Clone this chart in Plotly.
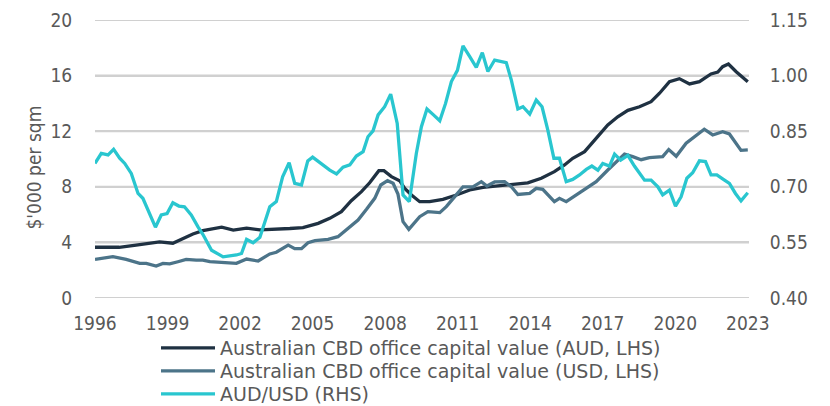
import plotly.graph_objects as go

# AUD/USD exchange rate (RHS)
fx_years = [1996.0, 1996.26, 1996.54, 1996.77, 1997.02, 1997.23, 1997.5, 1997.78, 1997.98, 1998.26,
            1998.5, 1998.74, 1998.98, 1999.22, 1999.47, 1999.7, 1999.98, 2000.26, 2000.46, 2000.82,
            2001.3, 2001.85, 2002.06, 2002.27, 2002.54, 2002.82, 2003.23, 2003.5, 2003.76, 2004.03,
            2004.26, 2004.54, 2004.8, 2005.0, 2005.37, 2005.71, 2005.99, 2006.26, 2006.54, 2006.81,
            2007.09, 2007.29, 2007.5, 2007.71, 2007.98, 2008.23, 2008.5, 2008.74, 2009.0, 2009.29,
            2009.5, 2009.73, 2010.0, 2010.26, 2010.5, 2010.74, 2010.99, 2011.22, 2011.5, 2011.77,
            2012.02, 2012.25, 2012.53, 2013.01, 2013.22, 2013.49, 2013.7, 2013.98, 2014.25, 2014.49,
            2014.73, 2014.98, 2015.21, 2015.49, 2015.76, 2016.04, 2016.32, 2016.55, 2016.8, 2017.0,
            2017.28, 2017.49, 2017.74, 2018.04, 2018.31, 2018.5, 2018.73, 2019.0, 2019.28, 2019.48,
            2019.76, 2020.01, 2020.24, 2020.48, 2020.72, 2021.0, 2021.25, 2021.48, 2021.72, 2021.99,
            2022.24, 2022.49, 2022.72, 2023.0]
fx_values = [0.763, 0.790, 0.786, 0.801, 0.777, 0.763, 0.736, 0.682, 0.669, 0.628,
             0.591, 0.624, 0.628, 0.657, 0.648, 0.646, 0.624, 0.592, 0.572, 0.529,
             0.511, 0.516, 0.520, 0.558, 0.549, 0.564, 0.646, 0.660, 0.727, 0.765,
             0.709, 0.705, 0.770, 0.780, 0.763, 0.745, 0.735, 0.753, 0.759, 0.783,
             0.795, 0.835, 0.851, 0.894, 0.916, 0.950, 0.871, 0.678, 0.660, 0.790,
             0.862, 0.910, 0.894, 0.878, 0.925, 0.984, 1.014, 1.080, 1.051, 1.022,
             1.062, 1.011, 1.042, 1.035, 0.988, 0.910, 0.916, 0.896, 0.934, 0.916,
             0.853, 0.777, 0.777, 0.714, 0.720, 0.732, 0.747, 0.756, 0.745, 0.763,
             0.756, 0.788, 0.772, 0.785, 0.756, 0.740, 0.718, 0.718, 0.700, 0.678,
             0.691, 0.648, 0.673, 0.723, 0.738, 0.770, 0.768, 0.732, 0.732, 0.720,
             0.709, 0.682, 0.662, 0.684]

# Australian CBD office capital value, AUD ($'000 per sqm, LHS)
aud_years = [1996.0, 1997.0, 1997.7, 1998.3, 1998.67, 1999.22, 1999.64, 2000.05, 2000.46, 2001.24,
             2001.72, 2002.27, 2002.82, 2003.37, 2004.06, 2004.6, 2005.0, 2005.23, 2005.71, 2006.19,
             2006.6, 2007.02, 2007.36, 2007.74, 2007.95, 2008.26, 2008.6, 2008.81, 2009.09, 2009.43,
             2009.84, 2010.39, 2010.95, 2011.5, 2012.05, 2012.6, 2013.15, 2013.56, 2013.9, 2014.46,
             2015.0, 2015.42, 2015.76, 2016.25, 2016.73, 2017.21, 2017.62, 2018.04, 2018.52, 2019.0,
             2019.35, 2019.76, 2020.17, 2020.59, 2021.0, 2021.48, 2021.76, 2021.96, 2022.2, 2022.52,
             2023.0]
aud_values = [3.65, 3.65, 3.81, 3.98, 4.03, 3.94, 4.29, 4.60, 4.84, 5.09,
              4.89, 5.02, 4.90, 4.92, 5.00, 5.07, 5.25, 5.37, 5.73, 6.21,
              7.00, 7.65, 8.29, 9.16, 9.16, 8.73, 8.44, 7.89, 7.41, 6.93,
              6.93, 7.10, 7.41, 7.77, 7.96, 8.06, 8.20, 8.25, 8.28, 8.61,
              9.09, 9.57, 10.05, 10.53, 11.49, 12.45, 13.04, 13.50, 13.76, 14.12,
              14.73, 15.56, 15.78, 15.40, 15.56, 16.12, 16.26, 16.64, 16.83, 16.28,
              15.56]

# Australian CBD office capital value, USD ($'000 per sqm, LHS)
usd_years = [1996.0, 1996.4, 1996.74, 1997.29, 1997.85, 1998.12, 1998.53, 1998.81, 1999.09, 1999.43,
             1999.77, 2000.19, 2000.46, 2000.75, 2001.3, 2001.85, 2002.27, 2002.75, 2003.23, 2003.5,
             2003.99, 2004.26, 2004.54, 2004.81, 2005.1, 2005.64, 2006.05, 2006.47, 2006.88, 2007.23,
             2007.57, 2007.82, 2008.1, 2008.33, 2008.53, 2008.74, 2008.98, 2009.43, 2009.77, 2010.26,
             2010.53, 2010.88, 2011.22, 2011.63, 2011.98, 2012.21, 2012.53, 2012.94, 2013.22, 2013.49,
             2013.98, 2014.25, 2014.52, 2015.0, 2015.21, 2015.49, 2016.11, 2016.73, 2017.21, 2017.56,
             2017.9, 2018.24, 2018.59, 2018.93, 2019.48, 2019.73, 2020.04, 2020.45, 2020.79, 2021.2,
             2021.55, 2021.96, 2022.24, 2022.72, 2023.0]
usd_values = [2.78, 2.86, 2.97, 2.78, 2.49, 2.49, 2.30, 2.49, 2.45, 2.61,
              2.78, 2.73, 2.73, 2.61, 2.55, 2.49, 2.80, 2.66, 3.17, 3.29,
              3.81, 3.55, 3.55, 3.98, 4.12, 4.22, 4.41, 5.01, 5.61, 6.38,
              7.17, 8.13, 8.44, 8.25, 7.48, 5.49, 4.94, 5.85, 6.21, 6.14,
              6.57, 7.29, 8.00, 8.00, 8.37, 8.06, 8.35, 8.37, 8.00, 7.45,
              7.53, 7.89, 7.82, 6.93, 7.17, 6.93, 7.65, 8.37, 9.21, 9.81,
              10.36, 10.17, 9.95, 10.10, 10.17, 10.68, 10.20, 11.13, 11.57, 12.14,
              11.73, 11.96, 11.80, 10.62, 10.65]

x_ticks = [1996, 1999, 2002, 2005, 2008, 2011, 2014, 2017, 2020, 2023]
left_ticks = [0, 4, 8, 12, 16, 20]
right_ticks = [0.40, 0.55, 0.70, 0.85, 1.00, 1.15]
y_title = "$'000 per sqm"

TICKFONT = "DejaVu Sans Condensed, DejaVu Sans, sans-serif"
TEXTFONT = "DejaVu Sans, sans-serif"
GREY = "#595959"
GRID = "#d0d0d0"
CLEAR = "rgba(0,0,0,0)"

fig = go.Figure()

# horizontal gridlines at the left-axis tick values (drawn below the data)
for v in left_ticks:
    fig.add_hline(y=v, line=dict(color=GRID, width=2), layer="below")

fig.add_trace(go.Scatter(x=aud_years, y=aud_values, mode="lines",
                         name="Australian CBD office capital value (AUD, LHS)",
                         legend="legend",
                         line=dict(color="#1f3142", width=3.3)))
fig.add_trace(go.Scatter(x=usd_years, y=usd_values, mode="lines",
                         name="Australian CBD office capital value (USD, LHS)",
                         legend="legend2",
                         line=dict(color="#4c7489", width=3.3)))
fig.add_trace(go.Scatter(x=fx_years, y=fx_values, mode="lines", yaxis="y2",
                         name="AUD/USD (RHS)",
                         legend="legend3",
                         line=dict(color="#29c6cf", width=3.3)))

H = 406.0


def leg(center_px):
    return dict(x=156 / 830.0, y=1 - center_px / H, xref="container", yref="container",
                xanchor="left", yanchor="middle", orientation="v",
                font=dict(family=TEXTFONT, size=19, color=GREY),
                itemwidth=54, bgcolor=CLEAR)


fig.add_annotation(text=y_title, xref="paper", yref="paper", x=-0.093, y=0.47,
                   xanchor="center", yanchor="middle", textangle=-90, showarrow=False,
                   font=dict(family=TICKFONT, size=19, color=GREY))

fig.update_layout(
    width=830, height=406,
    margin=dict(l=95, r=81, t=20, b=108, autoexpand=False),
    paper_bgcolor="white", plot_bgcolor="white",
    font=dict(family=TICKFONT, size=19, color=GREY),
    showlegend=True,
    legend=leg(348),
    legend2=leg(371),
    legend3=leg(394),
    xaxis=dict(range=[1996, 2023.05], tickmode="array", tickvals=x_ticks,
               ticktext=[str(t) for t in x_ticks], showgrid=False, zeroline=False,
               showline=False, ticks="outside", ticklen=8, tickcolor=CLEAR,
               automargin=False,
               tickfont=dict(family=TICKFONT, size=19, color=GREY)),
    yaxis=dict(range=[0, 20], tickmode="array", tickvals=left_ticks,
               showgrid=True, gridcolor=GRID, gridwidth=2, zeroline=False,
               showline=False, ticks="outside", ticklen=18, tickcolor=CLEAR,
               automargin=False,
               tickfont=dict(family=TICKFONT, size=19, color=GREY)),
    yaxis2=dict(range=[0.40, 1.15], tickmode="array", tickvals=right_ticks,
                tickformat=".2f", overlaying="y", side="right",
                showgrid=False, zeroline=False, showline=False,
                ticks="outside", ticklen=16, tickcolor=CLEAR, automargin=False,
                tickfont=dict(family=TICKFONT, size=19, color=GREY)),
)

fig.write_html("out.html", config={"displayModeBar": False},
               post_script="document.body.style.margin='0px';document.body.style.overflow='hidden';")
